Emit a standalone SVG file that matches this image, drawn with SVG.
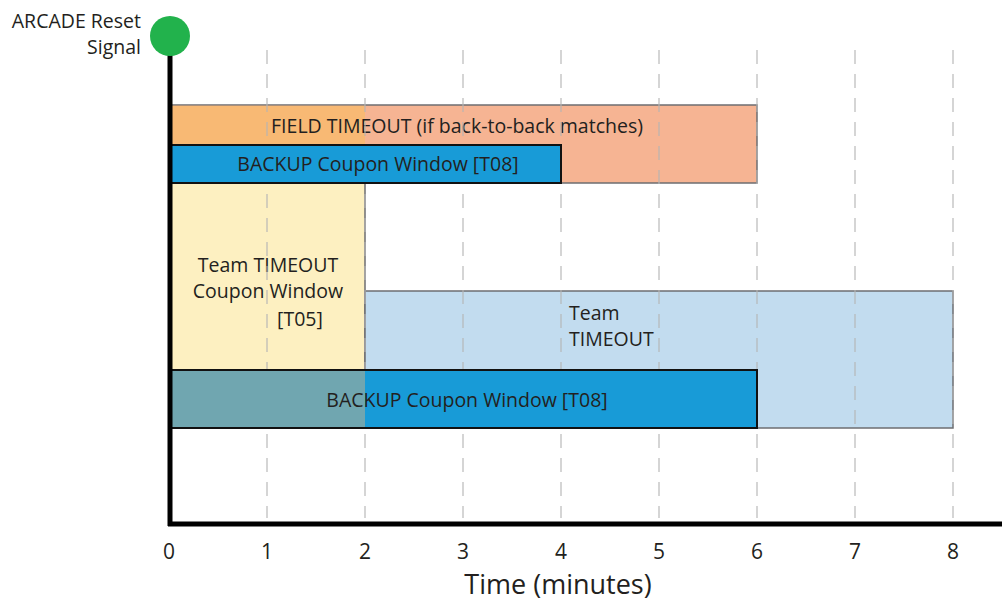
<svg xmlns="http://www.w3.org/2000/svg" width="1002" height="601" viewBox="0 0 1002 601">
<style>
text{font-family:"Open Sans","Liberation Sans",sans-serif;fill:#231f20}
.lbl{font-size:19.5px}
.tick{font-size:21px;text-anchor:middle}
.grid{stroke:#b4b4b4;stroke-opacity:0.75;stroke-width:1.5;stroke-dasharray:14 10}
.axis{stroke:#000;stroke-width:5;fill:none}
.thin{stroke:#6d6e71;stroke-width:1.5}
.blk{stroke:#111;stroke-width:2}
</style>
<rect width="1002" height="601" fill="#fff"/>
<g id="field-timeout">
<rect x="170" y="105" width="587" height="78" fill="#f6b493" class="thin"/>
<rect x="170" y="105.75" width="195" height="76.5" fill="#f8b974"/>
<text class="lbl" x="457" y="133" text-anchor="middle">FIELD TIMEOUT (if back-to-back matches)</text>
</g>
<g id="team-timeout-coupon">
<rect x="170" y="183" width="195" height="187" fill="#fdf0c1" class="thin"/>
<text class="lbl" x="268" y="272" text-anchor="middle">Team TIMEOUT</text>
<text class="lbl" x="268" y="298" text-anchor="middle">Coupon Window</text>
<text class="lbl" x="300" y="326" text-anchor="middle">[T05]</text>
</g>
<g id="team-timeout">
<rect x="365" y="291" width="588" height="137" fill="#c2dcef" class="thin"/>
<text class="lbl" x="569" y="320">Team</text>
<text class="lbl" x="569" y="346">TIMEOUT</text>
</g>
<g id="grid">
<line class="grid" x1="267" y1="50" x2="267" y2="518"/>
<line class="grid" x1="365" y1="50" x2="365" y2="518"/>
<line class="grid" x1="463" y1="50" x2="463" y2="518"/>
<line class="grid" x1="561" y1="50" x2="561" y2="518"/>
<line class="grid" x1="659" y1="50" x2="659" y2="518"/>
<line class="grid" x1="757" y1="50" x2="757" y2="518"/>
<line class="grid" x1="855" y1="50" x2="855" y2="518"/>
<line class="grid" x1="953" y1="50" x2="953" y2="518"/>
</g>
<g id="backup-top">
<rect x="170" y="145" width="391" height="38" fill="#189bd7" class="blk"/>
<text class="lbl" x="378" y="171" text-anchor="middle">BACKUP Coupon Window [T08]</text>
</g>
<g id="backup-bottom">
<rect x="170" y="370" width="587" height="58" fill="#189bd7" class="blk"/>
<rect x="171" y="371" width="194" height="56" fill="#70a6b0"/>
<text class="lbl" x="467" y="407" text-anchor="middle">BACKUP Coupon Window [T08]</text>
</g>
<g id="axes">
<line class="axis" x1="170" y1="40" x2="170" y2="526"/>
<line class="axis" x1="168" y1="524" x2="1002" y2="524"/>
</g>
<g id="reset-signal">
<circle cx="170" cy="36" r="20" fill="#22b24c"/>
<text class="lbl" x="141" y="28" text-anchor="end">ARCADE Reset</text>
<text class="lbl" x="141" y="54" text-anchor="end">Signal</text>
</g>
<g id="tick-labels">
<text class="tick" x="169" y="559">0</text>
<text class="tick" x="267" y="559">1</text>
<text class="tick" x="365" y="559">2</text>
<text class="tick" x="463" y="559">3</text>
<text class="tick" x="561" y="559">4</text>
<text class="tick" x="659" y="559">5</text>
<text class="tick" x="757" y="559">6</text>
<text class="tick" x="855" y="559">7</text>
<text class="tick" x="953" y="559">8</text>
<text x="558" y="594" text-anchor="middle" font-size="27">Time (minutes)</text>
</g>
</svg>
